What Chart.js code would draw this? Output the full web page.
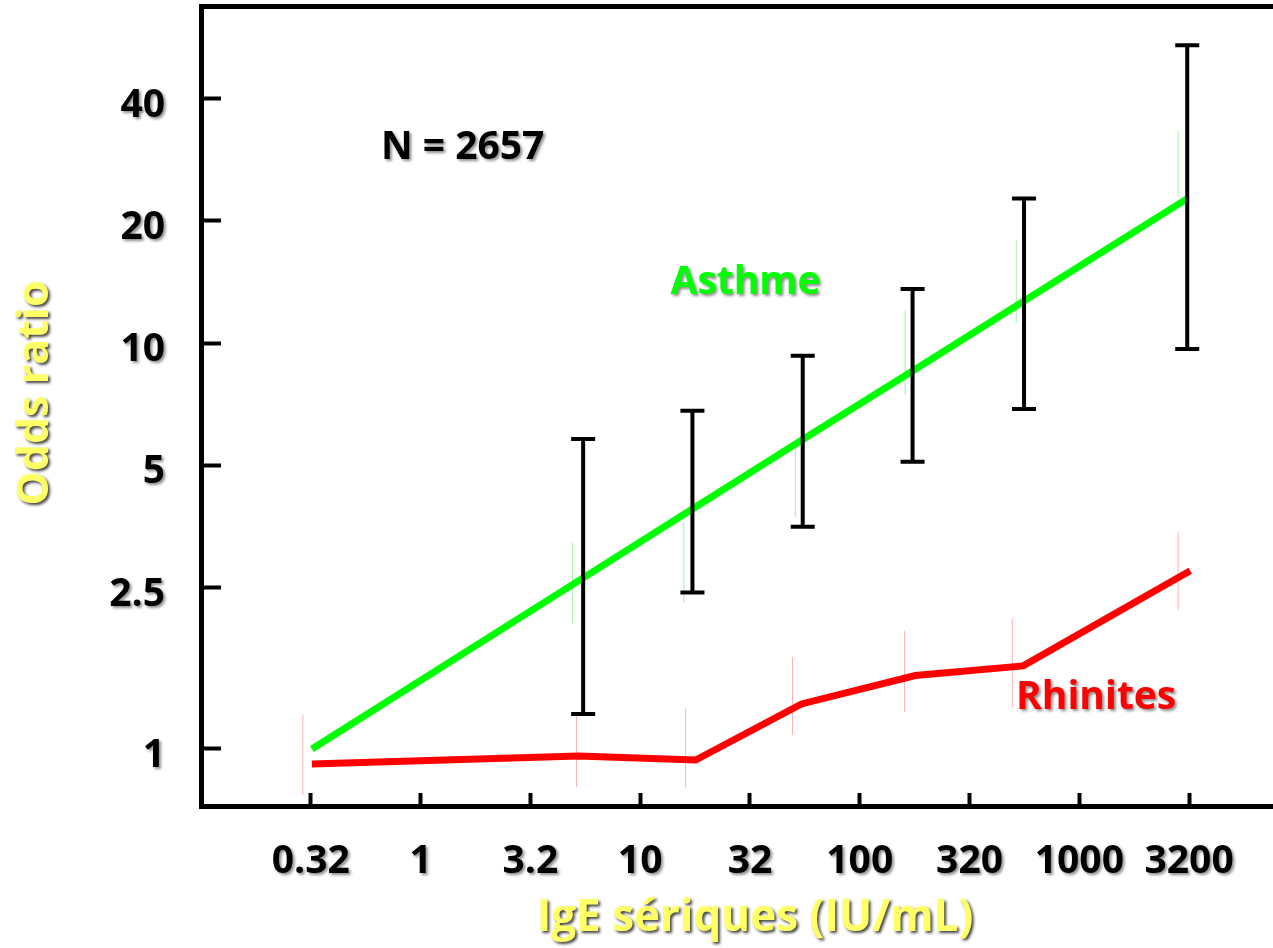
<!DOCTYPE html>
<html><head><meta charset="utf-8">
<script src="https://cdn.jsdelivr.net/npm/chart.js@4.4.1/dist/chart.umd.min.js"></script>
<style>html,body{margin:0;padding:0;background:#fff;overflow:hidden}</style>
</head><body>
<canvas id="c" width="1273" height="948"></canvas>
<script>
// ---- tick values / labels ----
const xTickValues = [0.3162, 1, 3.162, 10, 31.62, 100, 316.2, 1000, 3162];
const xTickLabels = ['0.32', '1', '3.2', '10', '32', '100', '320', '1000', '3200'];
const yTickValues = [1, 2.5, 5, 10, 20, 40];
const yTickLabels = ['1', '2.5', '5', '10', '20', '40'];

// ---- Asthme ----
const asthmeX    = [0.32, 5.5, 17.3, 55, 174, 560, 3100];
const asthmeOR   = [1.0, 2.64, 3.90, 5.79, 8.54, 12.7, 22.7];
const asthmeLow  = [null, 1.22, 2.43, 3.53, 5.10, 6.88, 9.67];
const asthmeHigh = [null, 5.80, 6.81, 9.31, 13.6, 22.7, 54.2];
const asthmeFaintX    = [4.92, 15.8, 50.9, 161, 516, 2818];
const asthmeFaintLow  = [2.04, 2.29, 3.73, 7.46, 11.2, 22.9];
const asthmeFaintHigh = [3.22, 3.61, 5.55, 12.07, 18.0, 33.3];

// ---- Rhinites ----
const rhinX   = [0.32, 5.24, 17.9, 54.3, 179, 555, 3200];
const rhinOR  = [0.918, 0.961, 0.939, 1.291, 1.517, 1.602, 2.748];
const rhinFaintX    = [0.291, 5.13, 16.1, 49.4, 160, 495, 2818];
const rhinFaintLow  = [0.770, 0.806, 0.801, 1.083, 1.234, 1.262, 2.2];
const rhinFaintHigh = [1.213, 1.22, 1.262, 1.686, 1.954, 2.1, 3.43];

// ---- text notes ----
const noteTexts  = ['N = 2657', 'Asthme', 'Rhinites'];
const noteX      = [1.555, 30.2, 1193];
const noteY      = [30.3, 14.1, 1.336];
const noteColors = ['#000000', '#00FF00', '#FF0000'];

const FAMILY = '"Open Sans", Lato, sans-serif';
const FSIZE = 39;

function pts(xs, ys) { return xs.map((x, i) => ({x: x, y: ys[i]})); }

const labelShadow = {color: 'rgba(0,0,0,0.45)', x: 2, y: 2, blur: 3};
const titleShadow = {color: 'rgba(0,0,0,0.75)', x: 2, y: 2, blur: 3};
const titleShift = {x: [18, 3], y: [0, -13]};
function applyShadow(ctx, s) {
  ctx.shadowColor = s.color; ctx.shadowOffsetX = s.x; ctx.shadowOffsetY = s.y; ctx.shadowBlur = s.blur;
}

const shadowPlugin = {
  id: 'textShadow',
  beforeDraw(chart) {
    const ctx = chart.ctx;
    Object.values(chart.scales).forEach(s => {
      if (s._wrapped) return;
      s._wrapped = true;
      const oL = s.drawLabels.bind(s), oT = s.drawTitle.bind(s);
      const sh = titleShift[s.id] || [0, 0];
      s.drawLabels = function (a) { ctx.save(); applyShadow(ctx, labelShadow); oL(a); ctx.restore(); };
      s.drawTitle = function () { ctx.save(); ctx.translate(sh[0], sh[1]); applyShadow(ctx, titleShadow); oT(); ctx.restore(); };
    });
  }
};

function drawBars(chart, which) {
  const ctx = chart.ctx, xs = chart.scales.x, ys = chart.scales.y;
  chart.data.datasets.forEach(ds => {
    const e = ds[which];
    if (!e) return;
    ctx.save();
    ctx.strokeStyle = e.color;
    ctx.lineWidth = e.width;
    ctx.lineCap = 'butt';
    e.x.forEach((xv, i) => {
      if (e.low[i] == null) return;
      const px = xs.getPixelForValue(xv);
      const p1 = ys.getPixelForValue(e.low[i]);
      const p2 = ys.getPixelForValue(e.high[i]);
      ctx.beginPath();
      ctx.moveTo(px, p1); ctx.lineTo(px, p2);
      if (e.cap) {
        ctx.moveTo(px - e.cap / 2, p1); ctx.lineTo(px + e.cap / 2, p1);
        ctx.moveTo(px - e.cap / 2, p2); ctx.lineTo(px + e.cap / 2, p2);
      }
      ctx.stroke();
    });
    ctx.restore();
  });
}

const errorBarPlugin = {
  id: 'errorBars',
  beforeDatasetsDraw(chart) { drawBars(chart, 'faintBars'); },
  afterDatasetsDraw(chart) {
    drawBars(chart, 'errorBars');
    const ctx = chart.ctx, xs = chart.scales.x, ys = chart.scales.y;
    ctx.save();
    ctx.font = 'bold ' + FSIZE + 'px ' + FAMILY;
    ctx.textAlign = 'center';
    ctx.textBaseline = 'middle';
    applyShadow(ctx, labelShadow);
    noteTexts.forEach((t, i) => {
      ctx.fillStyle = noteColors[i];
      ctx.fillText(t, xs.getPixelForValue(noteX[i]), ys.getPixelForValue(noteY[i]));
    });
    ctx.restore();
  }
};

const tickFont = {family: FAMILY, size: FSIZE, weight: 'bold'};

new Chart(document.getElementById('c'), {
  type: 'line',
  data: {
    datasets: [
      {
        label: 'Asthme', data: pts(asthmeX, asthmeOR),
        borderColor: '#00FF00', backgroundColor: '#00FF00', borderWidth: 7,
        pointRadius: 0, tension: 0, fill: false,
        errorBars: {x: asthmeX, low: asthmeLow, high: asthmeHigh, color: '#000000', width: 4, cap: 24},
        faintBars: {x: asthmeFaintX, low: asthmeFaintLow, high: asthmeFaintHigh, color: 'rgba(0,220,0,0.35)', width: 1, cap: 0}
      },
      {
        label: 'Rhinites', data: pts(rhinX, rhinOR),
        borderColor: '#FF0000', backgroundColor: '#FF0000', borderWidth: 7,
        pointRadius: 0, tension: 0, fill: false,
        faintBars: {x: rhinFaintX, low: rhinFaintLow, high: rhinFaintHigh, color: 'rgba(255,0,0,0.3)', width: 1, cap: 0}
      }
    ]
  },
  options: {
    responsive: false,
    animation: false,
    layout: {padding: 0, autoPadding: false},
    plugins: {legend: {display: false}, tooltip: {enabled: false}},
    scales: {
      x: {
        type: 'logarithmic', position: 'bottom', min: 0.1, max: 7620, bounds: 'data',
        afterBuildTicks: (s) => { s.ticks = xTickValues.map(v => ({value: v})); },
        afterFit: (s) => { s.height = 142; s.paddingLeft = 0; s.paddingRight = 0; },
        ticks: {
          autoSkip: false, maxRotation: 0, color: '#000', font: tickFont, padding: 45,
          callback: (v, i) => xTickLabels[i]
        },
        grid: {drawOnChartArea: false, drawTicks: true, tickLength: -13, tickWidth: 4, tickColor: '#000'},
        border: {display: true, color: '#000', width: 5},
        title: {display: true, text: 'IgE sériques (IU/mL)', color: '#FFFF66', font: {family: FAMILY, size: 44, weight: 'bold'}, padding: {top: 6, bottom: 6}}
      },
      xTop: {
        type: 'logarithmic', position: 'top', min: 0.1, max: 7620, bounds: 'data',
        afterFit: (s) => { s.height = 6; s.paddingLeft = 0; s.paddingRight = 0; },
        ticks: {display: false},
        grid: {display: false, drawTicks: false},
        border: {display: true, color: '#000', width: 5}
      },
      y: {
        type: 'logarithmic', position: 'left', min: 0.7235, max: 67.7, bounds: 'data',
        afterBuildTicks: (s) => { s.ticks = yTickValues.map(v => ({value: v})); },
        afterFit: (s) => { s.width = 201; s.paddingTop = 0; s.paddingBottom = 0; },
        ticks: {
          autoSkip: false, color: '#000', font: tickFont, padding: 56, labelOffset: 7,
          callback: (v, i) => yTickLabels[i]
        },
        grid: {drawOnChartArea: false, drawTicks: true, tickLength: -20, tickWidth: 4, tickColor: '#000'},
        border: {display: true, color: '#000', width: 5},
        title: {display: true, text: 'Odds ratio', color: '#FFFF66', font: {family: FAMILY, size: 43, weight: 'bold'}, padding: {top: 10, bottom: 10}}
      }
    }
  },
  plugins: [shadowPlugin, errorBarPlugin]
});
</script>
</body></html>
